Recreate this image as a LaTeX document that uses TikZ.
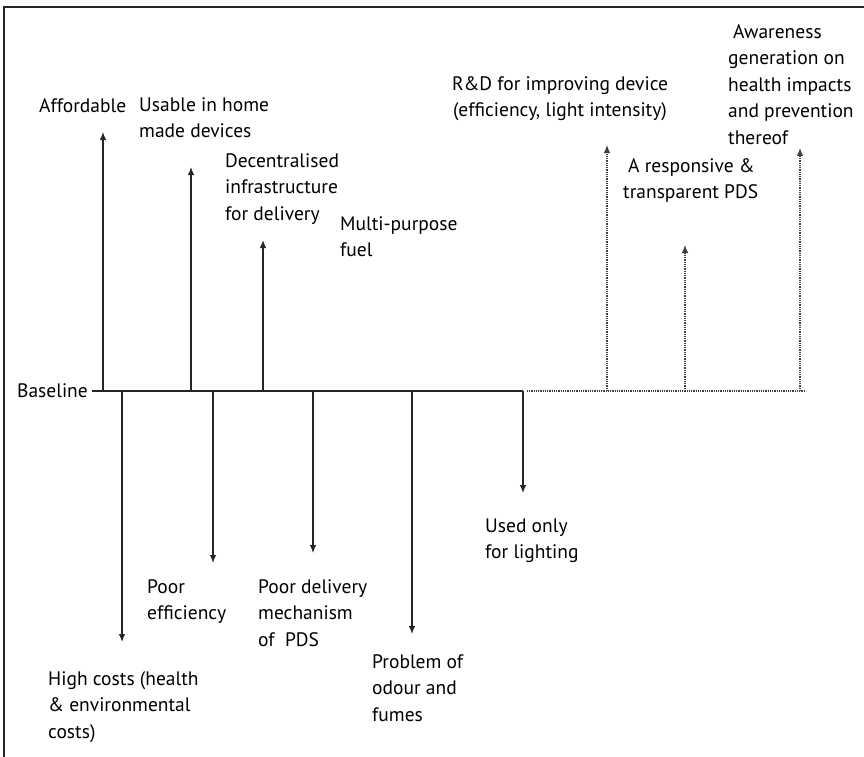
\documentclass[tikz,border=0pt]{standalone}
\usepackage{fontspec}
\setmainfont{PT Sans}
\usetikzlibrary{arrows.meta}
\begin{document}
\begin{tikzpicture}[x=1pt,y=-1pt,
  lbl/.style={anchor=base west,inner sep=0pt,align=left,font=\fontsize{19.5}{26.5}\selectfont},
  solidline/.style={line width=1.2pt,black!85},
  dotline/.style={line width=1.1pt,black!75,dash pattern=on 1pt off 0.8pt},
  uparrow/.style={-{Latex[length=8pt,width=6.5pt]}},
  frame/.style={line width=1.5pt,black!85}]
\useasboundingbox (0,0) rectangle (864,756);
\begin{scope}
\clip (0,0) rectangle (864,756);
\draw[frame] (4,7) rectangle (880,780);
\end{scope}
% baseline
\node[anchor=base east,inner sep=0pt,font=\fontsize{19.5}{26.5}\selectfont] (bl) at (88,397) {Baseline};
\coordinate (b0) at (92,391);
\coordinate (b1) at (523,391);
\coordinate (d0) at (527,391);
\coordinate (d1) at (806,391);
\draw[solidline] (b0) -- (b1);
\draw[dotline] (d0) -- (d1);
% up solid
\foreach \n/\x/\t in {ua/103/132, ub/191/167, uc/263/240}{
  \coordinate (\n s) at (\x,391);
  \coordinate (\n t) at (\x,\t);
  \draw[solidline,uparrow] (\n s) -- (\n t);
}
% down solid
\foreach \n/\x/\t in {da/122/642, db/213/563, dc/313/553, dd/412/634, de/523/493}{
  \coordinate (\n s) at (\x,391);
  \coordinate (\n t) at (\x,\t);
  \draw[solidline,uparrow] (\n s) -- (\n t);
}
% up dotted
\foreach \n/\x/\t in {pa/607/145, pb/685/245, pc/800/148}{
  \coordinate (\n s) at (\x,391);
  \coordinate (\n t) at (\x,\t);
  \draw[dotline,uparrow] (\n s) -- (\n t);
}
% labels (anchor = baseline of last line)
\node[lbl] (t1) at (39,112) {Affordable};
\node[lbl] (t2) at (139,137.5) {Usable in home\\made devices};
\node[lbl] (t3) at (225,220) {Decentralised\\infrastructure\\for delivery};
\node[lbl] (t4) at (340,256.5) {Multi-purpose\\fuel};
\node[lbl,anchor=base,align=center] (t5) at (560,116.5) {R\&D for improving device\\(efficiency, light intensity)};
\node[lbl] (t6) at (728,144) {\hspace{5pt}Awareness\\generation on\\health impacts\\and prevention\\thereof};
\node[lbl] (t7) at (623,198.5) {\hspace{5pt}A responsive \&\\transparent PDS};
\node[lbl] (t8) at (485,558.5) {Used only\\for lighting};
\node[lbl] (t9) at (147,619.5) {Poor\\efficiency};
\node[lbl] (t10) at (258,646) {Poor delivery\\mechanism\\of\ \ PDS};
\node[lbl] (t11) at (372,721) {Problem of\\odour and\\fumes};
\node[lbl] (t12) at (48,738) {High costs (health\\\& environmental\\costs)};
\end{tikzpicture}
\end{document}
